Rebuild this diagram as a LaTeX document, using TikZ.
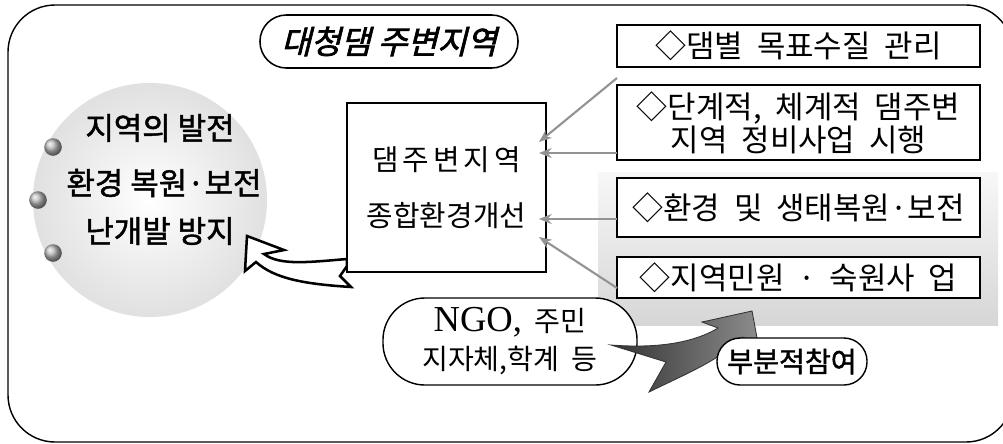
\documentclass[tikz,border=0pt]{standalone}
\usepackage{fontspec}
\setmainfont{Liberation Serif}
\newfontfamily\ko{Noto Sans CJK KR}
\newfontfamily\kowide[WordSpace=2]{Noto Sans CJK KR}
\newfontfamily\kotitle[FakeSlant=0.25,FakeBold=2]{Noto Sans CJK KR}
\newfontfamily\kobold[FakeBold=1.5]{Noto Sans CJK KR}
\usetikzlibrary{arrows.meta,calc}
\begin{document}
\begin{tikzpicture}[x=0.025cm,y=-0.025cm,
  box/.style={draw, line width=1.1pt, fill=white, inner sep=0pt, align=center,
    minimum width=9.075cm, font=\kowide\fontsize{22}{23.5}\selectfont},
  conn/.style={draw=gray!85, line width=1.5pt, -{Stealth[length=9pt,width=7pt]}},
  lefttext/.style={font=\kobold\fontsize{22}{26}\selectfont, inner sep=0pt},
  bullet/.style={ball color=gray!55},
]
\useasboundingbox (0,0) rectangle (1003,443);
\clip (0,0) rectangle (1003,443);
\fill[white] (0,0) rectangle (1003,443);
% shaded background behind lower boxes
\shade[top color=gray!6, bottom color=gray!32] (598,172) rectangle (998,325);
% outer frame (right side lies outside the picture)
\draw[line width=1pt, rounded corners=1.175cm]
  (1013,62) -- (1013,5) -- (8,5) -- (8,442) -- (1013,442) -- (1013,385);
% left circle
\shade[inner color=white, outer color=gray!24] (150,200) circle [radius=2.925cm];
\shade[bullet] (53,147) circle [radius=0.22cm];
\shade[bullet] (38,200) circle [radius=0.22cm];
\shade[bullet] (53,253) circle [radius=0.22cm];
\node[lefttext] (g1) at (160,128) {지역의 발전};
\node[lefttext] (g2) at (164,183) {환경 복원·보전};
\node[lefttext] (g3) at (160,231) {난개발 방지};
% title
\node[draw, line width=1.1pt, rounded corners=0.66cm, minimum width=6.45cm,
  minimum height=1.325cm, font=\kotitle\fontsize{23}{27}\selectfont] (title)
  at (389,41.5) {대청댐 주변지역};
% white curved block arrow
\draw[line width=1.8pt, fill=white, line join=miter]
  (247,236) -- (284,250) -- (264,254)
  .. controls (280,266) and (310,262) .. (347,259)
  -- (347,266) -- (340,276) -- (351,287)
  .. controls (305,284) and (275,279) .. (256,262)
  -- (245,271) -- cycle;
% centre box
\node[draw, line width=1.1pt, fill=white, align=center, inner sep=0pt,
  minimum width=4.975cm, minimum height=4.225cm,
  font=\ko\fontsize{20.5}{24}\selectfont] (cbox) at (446.5,187.5)
  {{\addfontfeature{LetterSpace=14}댐주변지역}\\[16pt]종합환경개선};
% right boxes
\node[box, minimum height=1.05cm] (b1) at (798.5,46) {◇댐별 목표수질 관리};
\node[box, minimum height=1.875cm] (b2) at (798.5,122.5) {◇단계적, 체계적 댐주변\\지역 정비사업 시행};
\node[box, minimum height=1.475cm] (b3) at (798.5,207.5) {◇환경 및 생태복원·보전};
\node[box, minimum height=1.025cm] (b4) at (798.5,277.5) {◇지역민원 · 숙원사 업};
% connectors
\coordinate (s1) at (617,78);  \coordinate (e1) at (539,142);
\coordinate (s2) at (617,153); \coordinate (e2) at (539,153);
\coordinate (s3) at (617,219); \coordinate (e3) at (539,219);
\coordinate (s4) at (617,288); \coordinate (e4) at (539,237);
\draw[conn] (s1) -- (e1);
\draw[conn] (s2) -- (e2);
\draw[conn] (s3) -- (e3);
\draw[conn] (s4) -- (e4);
% NGO
\node[draw, line width=1pt, rounded corners=1.05cm, fill=white, align=center,
  minimum width=6.35cm, minimum height=2.175cm, inner sep=0pt,
  font=\kowide\fontsize{20}{27}\selectfont] (ngo) at (510,341.5)
  {{\rmfamily\fontsize{26}{27}\selectfont NGO,} 주민\\지자체,학계 등};
% dark swoosh arrow
\shade[left color=black!80, right color=black!45, draw=black!80, line width=0.6pt]
  (611,345) .. controls (650,348) and (690,345) .. (718,328)
  -- (702,322) -- (752,311) -- (758,343) -- (742,337)
  .. controls (720,360) and (690,372) .. (649,392)
  -- (666,362) -- cycle;
% participation pill
\node[draw, line width=1pt, rounded corners=0.58cm, fill=white,
  minimum width=3.75cm, minimum height=1.175cm, inner sep=0pt,
  font=\kobold\fontsize{20}{24}\selectfont] (part) at (792,361.5) {부분적참여};
\end{tikzpicture}
\end{document}
